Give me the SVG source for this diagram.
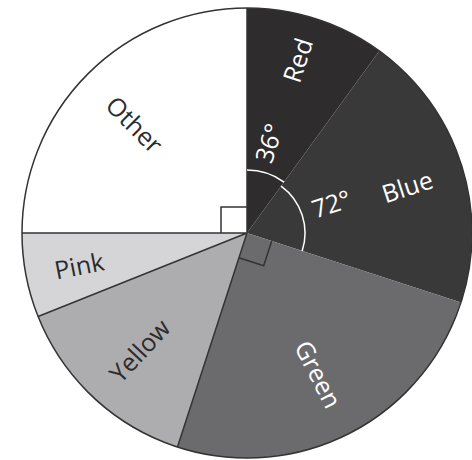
<svg xmlns="http://www.w3.org/2000/svg" width="472" height="460" viewBox="0 0 472 460">
<style>
.lbl{font-family:"Open Sans","Noto Sans","Liberation Sans",sans-serif;font-size:25px;text-anchor:middle;dominant-baseline:central}
.w{fill:#ffffff}
.d{fill:#2b2b2b}
.edge{stroke:#333333;stroke-width:1.5;fill:none}
.arc{stroke:#ffffff;stroke-width:1.5;fill:none}
</style>
<rect width="472" height="460" fill="#ffffff"/>
<g id="slice-other"><path d="M247,233 L22,233 A225,225 0 0 1 247,8 Z" fill="#ffffff"/></g>
<g id="slice-red"><path d="M247,233 L247,8 A225,225 0 0 1 379.26,50.97 Z" fill="#2e2c2d"/></g>
<g id="slice-blue"><path d="M247,233 L379.26,50.97 A225,225 0 0 1 460.99,302.53 Z" fill="#393939"/></g>
<g id="slice-green"><path d="M247,233 L460.99,302.53 A225,225 0 0 1 177.47,446.99 Z" fill="#6b6b6d"/></g>
<g id="slice-yellow"><path d="M247,233 L177.47,446.99 A225,225 0 0 1 38.09,316.56 Z" fill="#adadb0"/></g>
<g id="slice-pink"><path d="M247,233 L38.09,316.56 A225,225 0 0 1 22,233 Z" fill="#d5d5d7"/></g>
<g id="connectors">
<circle cx="247" cy="233" r="225" class="edge"/>
<path class="edge" d="M247,233 V8 M247,233 H22 M247,233 L38.09,316.56 M247,233 L177.47,446.99"/>
<path class="edge" d="M221,233 V207 H247"/>
<path class="edge" d="M271.73,241.03 L263.69,265.76 L238.96,257.73"/>
<path class="arc" d="M247,170 A63,63 0 0 1 284.03,182.03"/>
<path class="arc" d="M281.09,186.08 A58,58 0 0 1 302.16,250.92"/>
</g>
<g id="labels">
<text class="lbl w" transform="translate(297,60) rotate(-72)">Red</text>
<text class="lbl w" transform="translate(268,143) rotate(-72)">36°</text>
<text class="lbl w" transform="translate(331,203) rotate(-18)">72°</text>
<text class="lbl w" transform="translate(407,186) rotate(-18)">Blue</text>
<text class="lbl w" transform="translate(319,374) rotate(63)">Green</text>
<text class="lbl d" transform="translate(139,350) rotate(-47)">Yellow</text>
<text class="lbl d" transform="translate(79,265) rotate(-11)">Pink</text>
<text class="lbl d" transform="translate(135,124) rotate(45)">Other</text>
</g>
</svg>
